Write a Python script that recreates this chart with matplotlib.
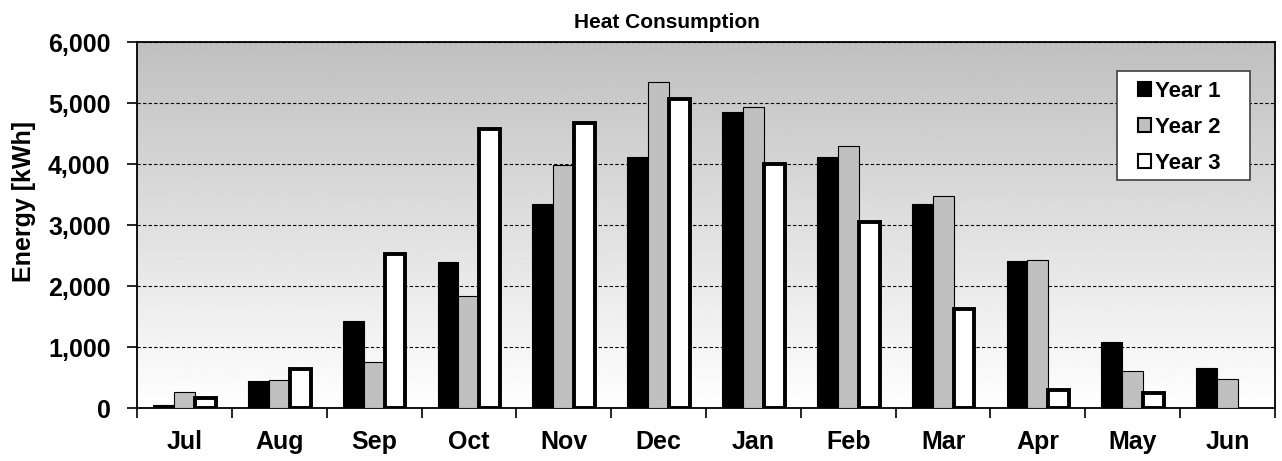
import numpy as np
import matplotlib
matplotlib.use('Agg')
import matplotlib.pyplot as plt
from matplotlib.patches import Rectangle
from matplotlib.ticker import FuncFormatter

months = ['Jul', 'Aug', 'Sep', 'Oct', 'Nov', 'Dec', 'Jan', 'Feb', 'Mar', 'Apr', 'May', 'Jun']
year1 = [50, 440, 1420, 2390, 3340, 4110, 4850, 4110, 3340, 2410, 1090, 660]
year2 = [265, 460, 750, 1840, 3990, 5340, 4940, 4300, 3480, 2420, 610, 470]
year3 = [170, 640, 2530, 4570, 4670, 5060, 4000, 3050, 1630, 290, 240, 0]
series_names = ['Year 1', 'Year 2', 'Year 3']

plt.rcParams['font.family'] = ['Liberation Sans', 'DejaVu Sans']
plt.rcParams['font.weight'] = 'bold'

W, H = 1282, 461
fig = plt.figure(figsize=(W / 100, H / 100), dpi=100)
ax = fig.add_axes([137 / W, 1 - 408 / H, (1275 - 137) / W, (408 - 42) / H])

# background gradient, grey at top fading to white
grad = np.linspace(0.75, 1.0, 256).reshape(-1, 1)
ax.imshow(grad, cmap='gray', vmin=0, vmax=1, aspect='auto',
          extent=[0, 1, 0, 1], transform=ax.transAxes, zorder=0)

x = np.arange(len(months))
w = 0.22
ax.bar(x - w, year1, w, color='black', edgecolor='black', linewidth=0.8,
       label=series_names[0], zorder=3)
ax.bar(x, year2, w, color='#c0c0c0', edgecolor='black', linewidth=0.8,
       label=series_names[1], zorder=3)
ax.bar(x + w, [v if v > 0 else np.nan for v in year3], w, color='white',
       edgecolor='black', linewidth=2.8, label=series_names[2], zorder=3)

ax.set_xlim(-0.5, len(months) - 0.5)
ax.set_ylim(0, 6000)
ax.set_yticks(range(0, 6001, 1000))
ax.yaxis.set_major_formatter(FuncFormatter(lambda v, p: f'{int(v):,}'))
ax.grid(axis='y', color='black', linestyle=(0, (3, 2)), linewidth=0.8, zorder=1)
ax.set_axisbelow(True)

ax.set_xticks(x)
ax.set_xticklabels(months)
ax.set_xticks(np.arange(-0.5, len(months)), minor=True)
ax.tick_params(axis='x', which='major', length=0, pad=16, labelsize=18)
ax.tick_params(axis='x', which='minor', length=7, width=1.2, direction='out')
ax.tick_params(axis='y', length=7, width=1.2, direction='out', pad=12, labelsize=18)

for s in ax.spines.values():
    s.set_linewidth(1.3)
    s.set_color('black')

fig.text(667 / W, 1 - 22 / H, 'Heat Consumption', ha='center', va='center',
         fontsize=15, fontweight='bold')
fig.text(24 / W, 1 - 202 / H, 'Energy [kWh]', ha='center', va='center',
         rotation=90, fontsize=18, fontweight='bold')

# legend box drawn separately so it can be wider than the entries, like Excel
box = Rectangle((1117 / W, 1 - 180 / H), (1250 - 1117) / W, (180 - 71) / H,
                transform=fig.transFigure, facecolor='white', edgecolor='#404040',
                linewidth=1.2, zorder=5)
ax.add_patch(box)
box.set_clip_on(False)

leg = ax.legend(loc='upper left', bbox_to_anchor=(1131 / W, 1 - 74 / H),
                bbox_transform=fig.transFigure, fontsize=16, frameon=False,
                handlelength=0.6, handleheight=0.6, handletextpad=0.2,
                labelspacing=0.68, borderpad=0.3, borderaxespad=0)
leg.set_zorder(6)
for h in leg.legend_handles:
    h.set_linewidth(1.5)

fig.savefig('out.png', dpi=100)
